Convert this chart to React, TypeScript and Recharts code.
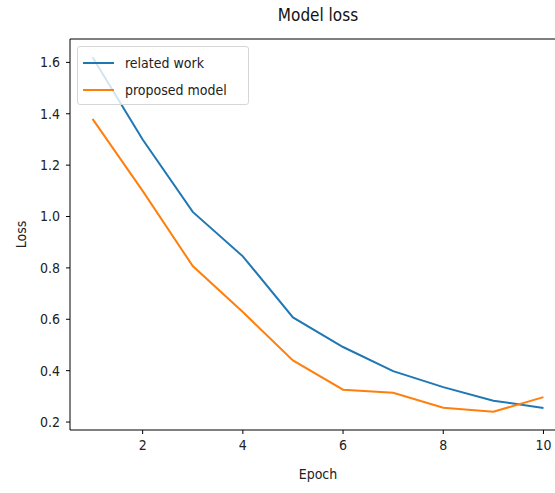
import { Legend, Line, LineChart, ReferenceLine, XAxis, YAxis } from "recharts";

const epochs = [1, 2, 3, 4, 5, 6, 7, 8, 9, 10];
const relatedWork = [1.62, 1.3, 1.018, 0.845, 0.607, 0.492, 0.398, 0.336, 0.283, 0.255];
const proposedModel = [1.38, 1.1, 0.807, 0.628, 0.44, 0.326, 0.314, 0.256, 0.24, 0.297];
const xTicks = [2, 4, 6, 8, 10];
const yTicks = [0.2, 0.4, 0.6, 0.8, 1.0, 1.2, 1.4, 1.6];

const data = epochs.map((epoch, i) => ({
  epoch,
  related: relatedWork[i],
  proposed: proposedModel[i],
}));

const FONT = '"DejaVu Sans Condensed", "DejaVu Sans", sans-serif';
const BLUE = "#1f77b4";
const ORANGE = "#ff7f0e";
const Y_MIN = 0.169;
const Y_MAX = 1.691;

function LegendBox() {
  const rows = [
    { label: "related work", color: BLUE },
    { label: "proposed model", color: ORANGE },
  ];
  return (
    <div
      style={{
        width: 172,
        height: 59,
        boxSizing: "border-box",
        border: "1px solid #d6d6d6",
        borderRadius: 3,
        background: "rgba(255,255,255,0.8)",
        padding: "2px 0 0 5px",
      }}
    >
      {rows.map((r) => (
        <div key={r.label} style={{ display: "flex", alignItems: "center", height: 27 }}>
          <span style={{ width: 31, height: 2, background: r.color, display: "inline-block" }} />
          <span style={{ marginLeft: 11, fontSize: 14, color: "#222" }}>{r.label}</span>
        </div>
      ))}
    </div>
  );
}

export default function App() {
  return (
    <div
      style={{
        position: "absolute",
        left: 0,
        top: 0,
        width: 555,
        height: 493,
        overflow: "hidden",
        background: "#fff",
        fontFamily: FONT,
      }}
    >
      <div
        style={{
          position: "absolute",
          left: 70,
          width: 496,
          top: 5,
          textAlign: "center",
          fontSize: 17,
          color: "#111",
        }}
      >
        Model loss
      </div>
      <LineChart
        width={570}
        height={493}
        data={data}
        margin={{ top: 39, right: 4, bottom: 0, left: 0 }}
      >
        <XAxis
          dataKey="epoch"
          type="number"
          domain={[0.55, 10.45]}
          ticks={xTicks}
          height={63}
          tick={{ fill: "#222", fontSize: 14 }}
          tickSize={4}
          tickMargin={6}
          tickLine={{ stroke: "#000" }}
          axisLine={{ stroke: "#000", strokeWidth: 1 }}
          label={{ value: "Epoch", position: "insideBottom", offset: 14, fill: "#222", fontSize: 14 }}
        />
        <YAxis
          type="number"
          domain={[Y_MIN, Y_MAX]}
          ticks={yTicks}
          width={70}
          tickFormatter={(v: number) => v.toFixed(1)}
          tick={{ fill: "#222", fontSize: 14 }}
          tickSize={4}
          tickMargin={6}
          tickLine={{ stroke: "#000" }}
          axisLine={{ stroke: "#000", strokeWidth: 1 }}
          label={{
            value: "Loss",
            angle: -90,
            position: "insideLeft",
            offset: 21,
            fill: "#222",
            fontSize: 14,
            style: { textAnchor: "middle" },
          }}
        />
        <ReferenceLine y={Y_MAX} stroke="#000" strokeWidth={1} />
        <Legend
          layout="vertical"
          align="center"
          verticalAlign="middle"
          wrapperStyle={{ top: 46, left: 77, width: 172 }}
          content={() => <LegendBox />}
        />
        <Line
          dataKey="related"
          name="related work"
          stroke={BLUE}
          strokeWidth={2}
          dot={false}
          isAnimationActive={false}
        />
        <Line
          dataKey="proposed"
          name="proposed model"
          stroke={ORANGE}
          strokeWidth={2}
          dot={false}
          isAnimationActive={false}
        />
      </LineChart>
    </div>
  );
}
